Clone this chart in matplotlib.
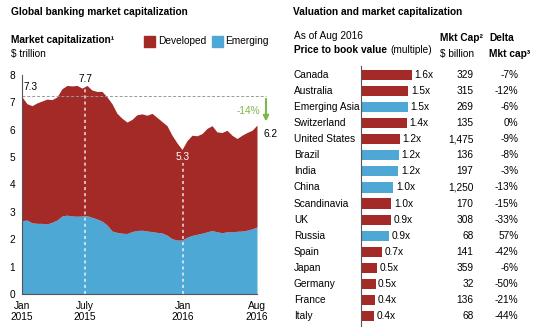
import matplotlib
matplotlib.use("Agg")
import matplotlib.pyplot as plt
import matplotlib.transforms as mtransforms
import numpy as np

plt.rcParams['font.family'] = ['Liberation Sans Narrow', 'Liberation Sans', 'DejaVu Sans']

# weekly-ish samples, Jan 2015 -> Aug 2016 ($ trillion)
total = [7.2, 6.95, 6.88, 6.98, 7.05, 7.12, 7.1, 7.2, 7.5, 7.62, 7.6, 7.62,
         7.52, 7.62, 7.45, 7.4, 7.4, 7.2, 6.95, 6.6, 6.42, 6.28, 6.38, 6.55,
         6.58, 6.53, 6.6, 6.45, 6.3, 6.15, 5.8, 5.52, 5.28, 5.6, 5.8, 5.78,
         5.86, 6.05, 6.15, 5.92, 5.9, 5.98, 5.8, 5.68, 5.8, 5.9, 5.98, 6.17]
emerging = [2.68, 2.7, 2.6, 2.58, 2.58, 2.56, 2.62, 2.7, 2.85, 2.88, 2.85, 2.84,
            2.85, 2.86, 2.8, 2.74, 2.66, 2.52, 2.3, 2.25, 2.22, 2.21, 2.28, 2.32,
            2.33, 2.3, 2.28, 2.25, 2.23, 2.15, 2.02, 1.97, 1.97, 2.07, 2.14, 2.18,
            2.22, 2.27, 2.32, 2.27, 2.24, 2.27, 2.27, 2.29, 2.3, 2.33, 2.38, 2.45]
tick_pos = [0, 12.6, 32.2, 47]
tick_labels = ["Jan\n2015", "July\n2015", "Jan\n2016", "Aug\n2016"]

countries = ["Canada", "Australia", "Emerging Asia", "Switzerland", "United States",
             "Brazil", "India", "China", "Scandinavia", "UK", "Russia", "Spain",
             "Japan", "Germany", "France", "Italy"]
pb = [1.6, 1.49, 1.47, 1.45, 1.23, 1.19, 1.18, 1.02, 0.96, 0.95, 0.88, 0.67,
      0.5, 0.46, 0.45, 0.42]
pb_labels = ["1.6x", "1.5x", "1.5x", "1.4x", "1.2x", "1.2x", "1.2x", "1.0x", "1.0x",
             "0.9x", "0.9x", "0.7x", "0.5x", "0.5x", "0.4x", "0.4x"]
emerging_flag = [0, 0, 1, 0, 0, 1, 1, 1, 0, 0, 1, 0, 0, 0, 0, 0]
mkt_cap = ["329", "315", "269", "135", "1,475", "136", "197", "1,250", "170", "308",
           "68", "141", "359", "32", "136", "68"]
delta = ["-7%", "-12%", "-6%", "0%", "-9%", "-8%", "-3%", "-13%", "-15%", "-33%",
         "57%", "-42%", "-6%", "-50%", "-21%", "-44%"]

RED = "#a32a26"
BLUE = "#4ea8d6"
GREEN = "#7db84a"
W, H = 540, 336

fig = plt.figure(figsize=(5.4, 3.36), dpi=100)

def px(x, y):
    return x / W, 1 - y / H

fs = 7.3
# ---------------- left panel ----------------
fig.text(*px(11, 12), "Global banking market capitalization", fontsize=fs, fontweight="bold", va="center")
fig.text(*px(11, 40), "Market capitalization\u00b9", fontsize=fs, fontweight="bold", va="center")
fig.text(*px(11, 54), "$ trillion", fontsize=fs, va="center")
fig.patches.append(plt.Rectangle(px(144, 47), 11 / W, 11 / H, color=RED, transform=fig.transFigure))
fig.text(*px(158, 41), "Developed", fontsize=fs, va="center")
fig.patches.append(plt.Rectangle(px(212, 47), 11 / W, 11 / H, color=BLUE, transform=fig.transFigure))
fig.text(*px(225, 41), "Emerging", fontsize=fs, va="center")

ax = fig.add_axes([22 / W, 1 - 294 / H, 235 / W, 219 / H])
x = np.arange(len(total))
ax.fill_between(x, 0, emerging, color=BLUE, lw=0)
ax.fill_between(x, emerging, total, color=RED, lw=0)
ax.set_xlim(0, len(total) - 1)
ax.set_ylim(0, 8)
ax.set_yticks(range(9))
ax.tick_params(axis="y", length=0, labelsize=fs, pad=5)
ax.set_xticks(tick_pos)
ax.set_xticklabels(tick_labels, fontsize=fs, linespacing=1.15)
ax.tick_params(axis="x", length=0, pad=5)
for s in ["top", "right"]:
    ax.spines[s].set_visible(False)
for s in ["left", "bottom"]:
    ax.spines[s].set_color("#555555")
    ax.spines[s].set_linewidth(0.8)

ax.plot([12.6, 12.6], [0, 7.62], ls=(0, (2, 2)), color="white", lw=1.1, alpha=0.85)
ax.plot([32.2, 32.2], [0, 4.8], ls=(0, (2, 2)), color="white", lw=1.1, alpha=0.85)
ax.plot([0, 48.8], [7.23, 7.23], ls=(0, (3, 2)), color="#999999", lw=0.7, clip_on=False)
ax.annotate("", xy=(48.8, 6.2), xytext=(48.8, 7.23),
            arrowprops=dict(arrowstyle="-|>", color=GREEN, lw=1.5, mutation_scale=8),
            annotation_clip=False)
ax.text(0.3, 7.57, "7.3", fontsize=fs, va="center", ha="left")
ax.text(12.65, 7.85, "7.7", fontsize=fs, va="center", ha="center")
ax.text(32.2, 5.02, "5.3", fontsize=fs, va="center", ha="center", color="white")
ax.text(45.3, 6.69, "-14%", fontsize=fs, va="center", ha="center", color=GREEN)
ax.text(48.2, 5.86, "6.2", fontsize=fs, va="center", ha="left")

# ---------------- right panel ----------------
fig.text(*px(293, 12), "Valuation and market capitalization", fontsize=fs, fontweight="bold", va="center")
fig.text(*px(294, 36), "As of Aug 2016", fontsize=fs, va="center")
t = fig.text(*px(294, 50), "Price to book value", fontsize=fs, fontweight="bold", va="center")
fig.canvas.draw()
bb = t.get_window_extent()
fig.text(bb.x1 / W + 3 / W, 1 - 50 / H, "(multiple)", fontsize=fs, va="center")
fig.text(*px(440, 38), "Mkt Cap\u00b2", fontsize=fs, fontweight="bold", va="center")
fig.text(*px(440, 54), "$ billion", fontsize=fs, va="center")
fig.text(*px(489, 38), "Delta", fontsize=fs, fontweight="bold", va="center")
fig.text(*px(489, 54), "Mkt cap\u00b3", fontsize=fs, fontweight="bold", va="center")

ax2 = fig.add_axes([361 / W, 1 - 326 / H, 179 / W, 260 / H])
rows = np.arange(len(countries))
colors = [BLUE if e else RED for e in emerging_flag]
ax2.barh(rows, pb, height=0.63, color=colors)
ax2.set_xlim(0, 179 / 31.7)
ax2.set_ylim(15.62, -0.56)
ax2.set_xticks([])
ax2.set_yticks([])
for s in ["top", "right", "bottom"]:
    ax2.spines[s].set_visible(False)
ax2.spines["left"].set_color("#555555")
ax2.spines["left"].set_linewidth(0.8)

tr = mtransforms.blended_transform_factory(fig.transFigure, ax2.transData)
for i in rows:
    ax2.text(294 / W, i, countries[i], transform=tr, fontsize=fs, va="center", ha="left")
    ax2.text(pb[i] + 0.08, i, pb_labels[i], fontsize=fs, va="center", ha="left")
    ax2.text(473.5 / W, i, mkt_cap[i], transform=tr, fontsize=fs, va="center", ha="right")
    ax2.text(518.5 / W, i, delta[i], transform=tr, fontsize=fs, va="center", ha="right")

fig.savefig("out.png", dpi=100)
